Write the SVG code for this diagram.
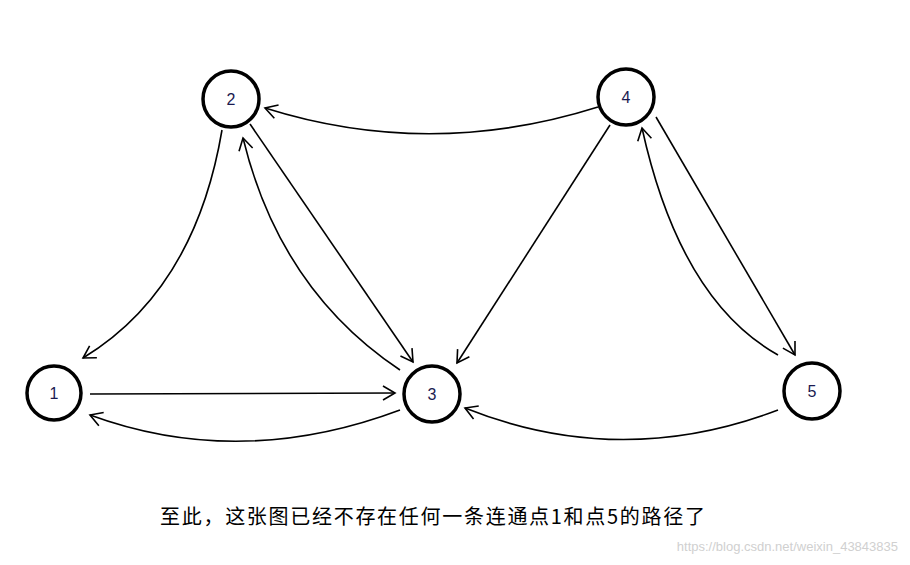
<svg xmlns="http://www.w3.org/2000/svg" width="910" height="565" viewBox="0 0 910 565">
<style>
.n{fill:#fff;stroke:#000;stroke-width:3.5}
.t{font-family:"Liberation Sans",Arial,sans-serif;font-size:16px;fill:#1a1a50;text-anchor:middle}
.e{fill:none;stroke:#000;stroke-width:1.6;marker-end:url(#a)}
</style>
<defs><marker id="a" markerWidth="16" markerHeight="16" refX="13" refY="8" orient="auto" markerUnits="userSpaceOnUse"><path d="M1,1 L13,8 L1,15" fill="none" stroke="#000" stroke-width="1.6"/></marker></defs>
<rect width="910" height="565" fill="#fff"/>
<g id="edges">
<path class="e" d="M598,107 Q430,160 265,108"/>
<path class="e" d="M222,130 Q195,290 83,358"/>
<path class="e" d="M250,124 L413,362"/>
<path class="e" d="M400,370 Q280,290 243,138"/>
<path class="e" d="M90,394 L395,393"/>
<path class="e" d="M400,410 Q240,470 90,415"/>
<path class="e" d="M610,125 L457,363"/>
<path class="e" d="M656,117 L795,355"/>
<path class="e" d="M778,355 Q680,300 642,128"/>
<path class="e" d="M778,410 Q620,470 465,408"/>
</g>
<g id="n1"><circle class="n" cx="54" cy="393" r="27"/><text class="t" x="54" y="399">1</text></g>
<g id="n2"><circle class="n" cx="231" cy="99" r="28"/><text class="t" x="231" y="105">2</text></g>
<g id="n3"><circle class="n" cx="432" cy="394" r="28"/><text class="t" x="432" y="400">3</text></g>
<g id="n4"><circle class="n" cx="626" cy="97" r="28"/><text class="t" x="626" y="103">4</text></g>
<g id="n5"><circle class="n" cx="812" cy="391" r="28"/><text class="t" x="812" y="397">5</text></g>
<text x="160" y="524" font-family="'Noto Sans CJK SC',sans-serif" font-size="20" textLength="545" lengthAdjust="spacing" fill="#000">至此，这张图已经不存在任何一条连通点1和点5的路径了</text>
<text x="898" y="551" text-anchor="end" font-family="'Liberation Sans',sans-serif" font-size="13" fill="#d0d0d0">https://blog.csdn.net/weixin_43843835</text>
</svg>
